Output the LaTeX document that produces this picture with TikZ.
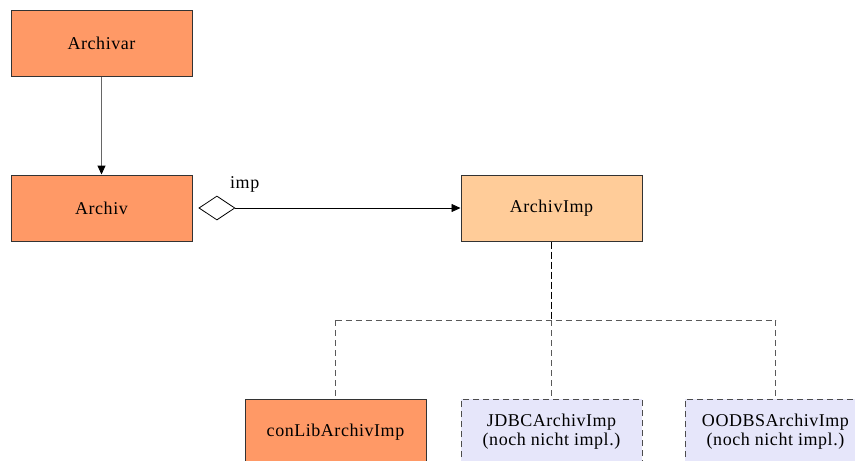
\documentclass[tikz,border=0pt]{standalone}
\usepackage{fontspec}
\setmainfont{Liberation Serif}
\usetikzlibrary{arrows.meta,shapes.geometric}
\definecolor{classorange}{HTML}{FF9966}
\definecolor{classpeach}{HTML}{FFCC99}
\definecolor{classlav}{HTML}{E6E6FA}
\definecolor{framegray}{HTML}{333333}
\newfontfamily\labelfont[LetterSpace=3]{Liberation Serif}
\begin{document}
\begin{tikzpicture}[x=1pt,y=-1pt,
  lbl/.style={font=\labelfont\fontsize{18}{19}\selectfont},
  cls/.style={draw=framegray,line width=1pt,minimum width=181pt,minimum height=66pt,
    inner sep=0pt,align=center,lbl},
  plan/.style={cls,fill=classlav,dashed,dash pattern=on 6pt off 4pt,draw=black!70},
  arr/.style={-{Triangle[length=9pt,width=8pt,fill=black,color=black]}},
  gdash/.style={draw=black!65,line width=1pt,dash pattern=on 6pt off 4pt}]
\useasboundingbox (0,0) rectangle (855,461);
\clip (0,0) rectangle (855,461);
% classes
\node[cls,fill=classorange] (archivar) at (101.5,43) {Archivar};
\node[cls,fill=classorange] (archiv) at (101.5,208) {Archiv};
\node[cls,fill=classpeach] (imp) at (551.5,208) {ArchivImp};
\node[cls,fill=classorange] (conlib) at (335.5,432) {conLibArchivImp};
\node[plan] (jdbc) at (551.5,432) {JDBCArchivImp\\(noch nicht impl.)};
\node[plan] (oodbs) at (775.5,432) {OODBSArchivImp\\(noch nicht impl.)};
% association Archivar -> Archiv
\draw[arr,draw=black!60,line width=1pt] (archivar) -- (archiv);
% aggregation Archiv <>-> ArchivImp
\node[diamond,draw=black,line width=0.8pt,fill=white,minimum width=36pt,minimum height=24pt,
  inner sep=0pt,anchor=west] (dia) at ([xshift=6pt]archiv.east) {};
\draw[arr,line width=0.8pt] (dia.east) -- (imp.west);
\node[anchor=south west,inner sep=0pt,lbl] (implabel) at (230,193) {imp};
% implementation hierarchy
\coordinate (fork) at (551.5,320);
\coordinate (forkl) at (335.5,320);
\coordinate (forkr) at (775.5,320);
\draw[line width=1.6pt,dash pattern=on 7pt off 3pt] (imp.south) -- (fork);
\draw[gdash] (forkl) -- (forkr);
\draw[gdash] (forkl) -- (conlib.north);
\draw[gdash] (fork) -- (jdbc.north);
\draw[gdash] (forkr) -- (oodbs.north);
\end{tikzpicture}
\end{document}
